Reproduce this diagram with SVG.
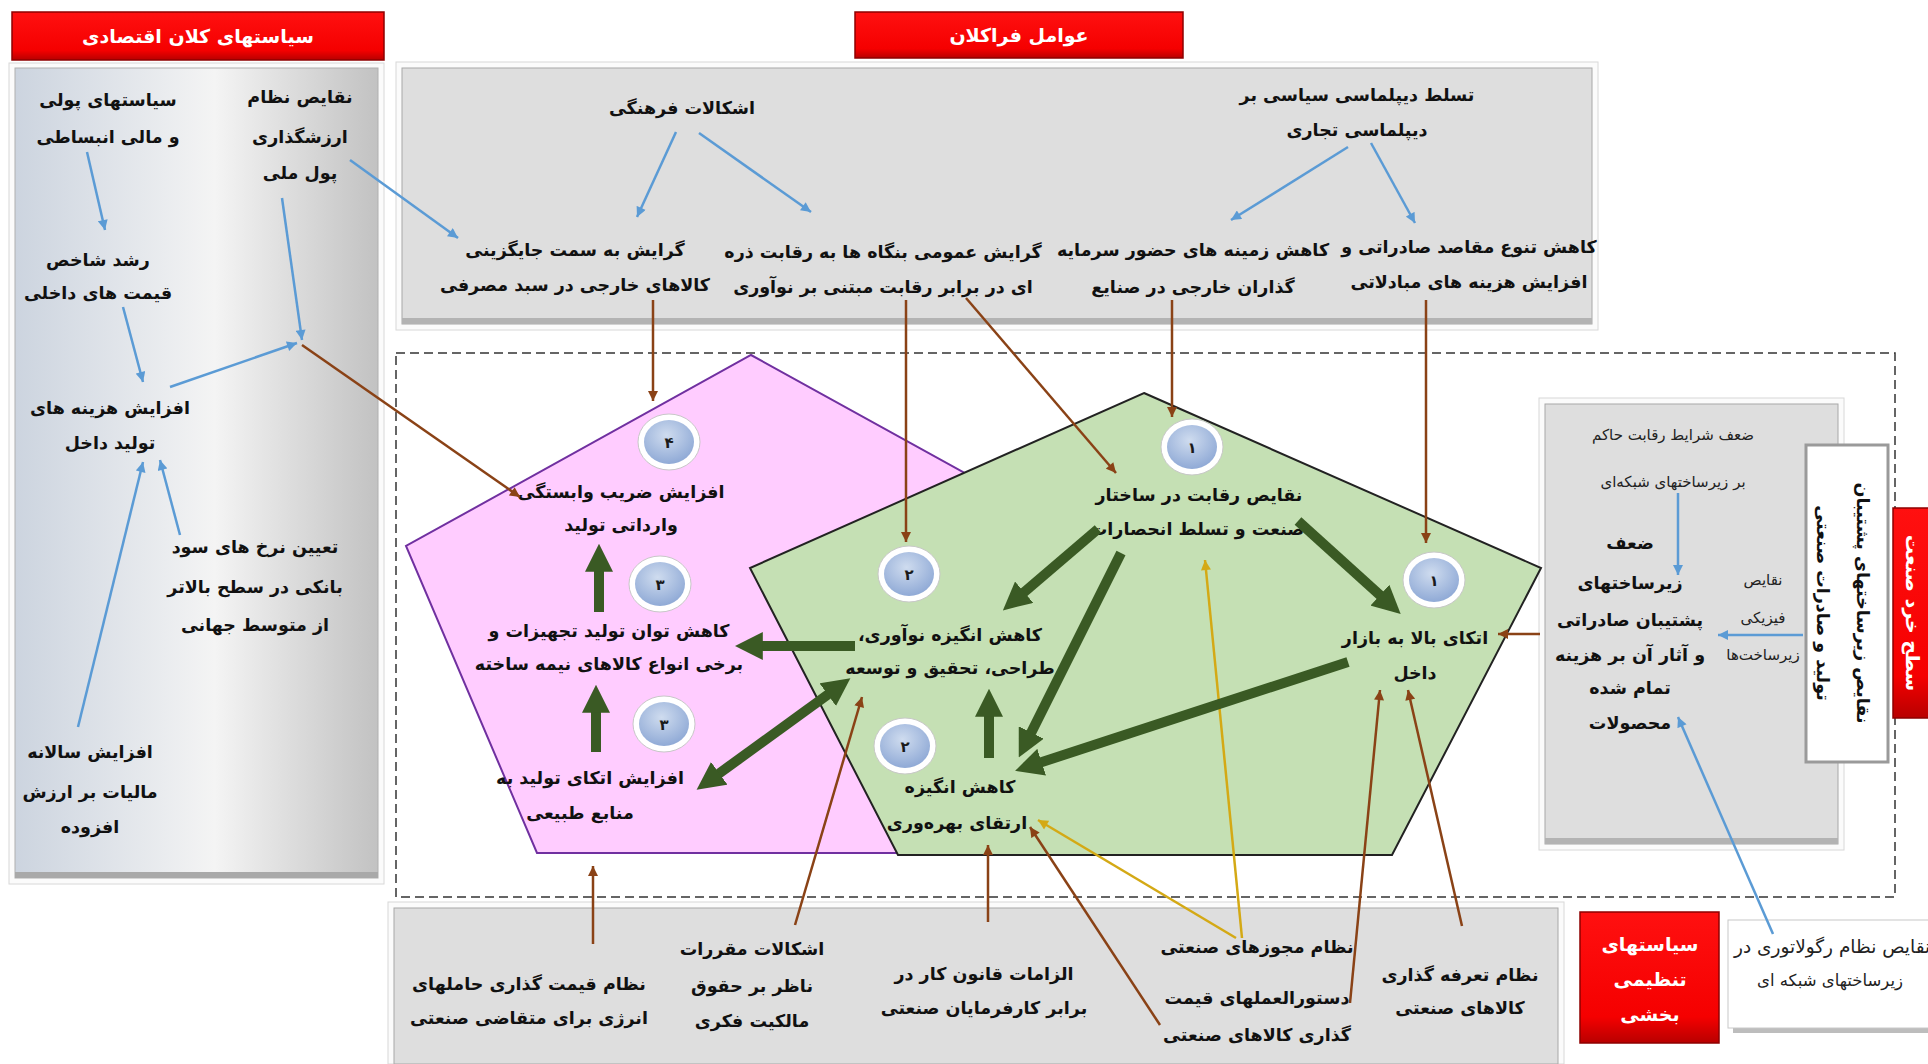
<svg xmlns="http://www.w3.org/2000/svg" width="1928" height="1064" viewBox="0 0 1928 1064">
<defs>
<style>
.t{font-family:"DejaVu Sans",sans-serif;font-weight:bold;font-size:17.5px;fill:#111;text-anchor:middle;direction:rtl}
.tr{font-family:"DejaVu Sans",sans-serif;font-weight:normal;font-size:15px;fill:#222;text-anchor:middle;direction:rtl}
.th{font-family:"DejaVu Sans",sans-serif;font-weight:bold;font-size:19px;fill:#fff;text-anchor:middle;direction:rtl}
.num{font-family:"DejaVu Sans",sans-serif;font-weight:bold;font-size:15px;fill:#1a1a1a;text-anchor:middle}
.g{stroke:#3a5a24;stroke-width:10;fill:none}
.b{stroke:#8a4216;stroke-width:2.5;fill:none}
.bl{stroke:#5b9bd5;stroke-width:2.5;fill:none}
.y{stroke:#d4a915;stroke-width:2.5;fill:none}
.panel{fill:#dedede;stroke:#a8a8a8;stroke-width:1}
.frame{fill:#fbfbfb;stroke:#d8d8d8;stroke-width:1}
.red{fill:url(#redg);stroke:#8e0000;stroke-width:1.5}
</style>
<linearGradient id="redg" x1="0" y1="0" x2="0" y2="1">
<stop offset="0" stop-color="#ff1010"/><stop offset="0.8" stop-color="#f50000"/><stop offset="1" stop-color="#b80000"/>
</linearGradient>
<linearGradient id="leftg" x1="0" y1="0" x2="1" y2="0">
<stop offset="0" stop-color="#ccd4df"/><stop offset="0.55" stop-color="#f4f4f4"/><stop offset="1" stop-color="#c2c2c2"/>
</linearGradient>
<radialGradient id="badge" cx="0.45" cy="0.35" r="0.7">
<stop offset="0" stop-color="#cfdcef"/><stop offset="1" stop-color="#8ba6d4"/>
</radialGradient>
<marker id="ag" viewBox="0 0 10 10" refX="1" refY="5" markerWidth="2.8" markerHeight="2.8" orient="auto-start-reverse" markerUnits="strokeWidth">
<path d="M0,0 L10,5 L0,10 z" fill="#3a5a24"/>
</marker>
<marker id="ab" viewBox="0 0 10 10" refX="10" refY="5" markerWidth="11" markerHeight="10" orient="auto" markerUnits="userSpaceOnUse">
<path d="M0,0 L10,5 L0,10 z" fill="#8a4216"/>
</marker>
<marker id="abl" viewBox="0 0 10 10" refX="10" refY="5" markerWidth="11" markerHeight="10" orient="auto" markerUnits="userSpaceOnUse">
<path d="M0,0 L10,5 L0,10 z" fill="#5b9bd5"/>
</marker>
<marker id="ay" viewBox="0 0 10 10" refX="10" refY="5" markerWidth="11" markerHeight="10" orient="auto" markerUnits="userSpaceOnUse">
<path d="M0,0 L10,5 L0,10 z" fill="#d4a915"/>
</marker>
</defs>

<rect x="0" y="0" width="1928" height="1064" fill="#ffffff"/>

<!-- Panels -->
<g id="header-macro">
<rect class="red" x="12" y="12" width="372" height="48"/>
<text class="th" x="198" y="43">سیاستهای کلان اقتصادی</text>
</g>
<g id="header-meta">
<rect class="red" x="855" y="12" width="328" height="46"/>
<text class="th" x="1019" y="42">عوامل فراکلان</text>
</g>
<g id="panel-macro">
<rect class="frame" x="9" y="63" width="375" height="821"/>
<rect x="15" y="68" width="363" height="810" fill="url(#leftg)" stroke="#b0b0b0" stroke-width="1"/>
<rect x="15" y="872" width="363" height="6" fill="#a9a9a9"/>
</g>
<g id="panel-meta">
<rect class="frame" x="396" y="62" width="1202" height="268"/>
<rect class="panel" x="402" y="68" width="1190" height="256"/>
<rect x="402" y="318" width="1190" height="6" fill="#b3b3b3"/>
</g>
<g id="panel-sector">
<rect class="frame" x="388" y="902" width="1176" height="162"/>
<rect class="panel" x="394" y="908" width="1164" height="156"/>
</g>
<g id="panel-infra">
<rect class="frame" x="1539" y="398" width="305" height="452"/>
<rect class="panel" x="1545" y="404" width="293" height="440"/>
<rect x="1545" y="838" width="293" height="6" fill="#b3b3b3"/>
</g>

<rect id="micro-boundary" x="396" y="353" width="1499" height="544" fill="none" stroke="#333" stroke-width="1.5" stroke-dasharray="9,5"/>

<g id="pentagon-pink">
<polygon points="751,355 1097,546 965,853 537,853 406,546" fill="#ffccff" stroke="#7030a0" stroke-width="2"/>
</g>
<g id="pentagon-green">
<polygon points="1144,393 1541,568 1392,855 898,855 750,568" fill="#c5e0b4" stroke="#222" stroke-width="2"/>
</g>

<!-- Left panel nodes -->
<g id="n-monetary"><text class="t" x="108" y="106">سیاستهای پولی</text><text class="t" x="108" y="143">و مالی انبساطی</text></g>
<g id="n-currency"><text class="t" x="300" y="103">نقایص نظام</text><text class="t" x="300" y="143">ارزشگذاری</text><text class="t" x="300" y="179">پول ملی</text></g>
<g id="n-price"><text class="t" x="98" y="266">رشد شاخص</text><text class="t" x="98" y="299">قیمت های داخلی</text></g>
<g id="n-cost"><text class="t" x="110" y="414">افزایش هزینه های</text><text class="t" x="110" y="449">تولید داخل</text></g>
<g id="n-interest"><text class="t" x="255" y="553">تعیین نرخ های سود</text><text class="t" x="255" y="593">بانکی در سطح بالاتر</text><text class="t" x="255" y="631">از متوسط جهانی</text></g>
<g id="n-vat"><text class="t" x="90" y="758">افزایش سالانه</text><text class="t" x="90" y="798">مالیات بر ارزش</text><text class="t" x="90" y="833">افزوده</text></g>

<!-- Top panel nodes -->
<g id="n-culture"><text class="t" x="682" y="114">اشکالات فرهنگی</text></g>
<g id="n-diplomacy"><text class="t" x="1357" y="101">تسلط دیپلماسی سیاسی بر</text><text class="t" x="1357" y="136">دیپلماسی تجاری</text></g>
<g id="n-foreign-goods"><text class="t" x="575" y="256">گرایش به سمت جایگزینی</text><text class="t" x="575" y="291">کالاهای خارجی در سبد مصرفی</text></g>
<g id="n-firms"><text class="t" x="883" y="258">گرایش عمومی بنگاه ها به رقابت ذره</text><text class="t" x="883" y="293">ای در برابر رقابت مبتنی بر نوآوری</text></g>
<g id="n-fdi"><text class="t" x="1193" y="256">کاهش زمینه های حضور سرمایه</text><text class="t" x="1193" y="293">گذاران خارجی در صنایع</text></g>
<g id="n-export"><text class="t" x="1469" y="253">کاهش تنوع مقاصد صادراتی و</text><text class="t" x="1469" y="288">افزایش هزینه های مبادلاتی</text></g>

<!-- Badges -->
<g id="badge-4a"><ellipse cx="669" cy="442" rx="31" ry="28" fill="#fff" stroke="#c8c8c8"/><ellipse cx="669" cy="442" rx="25" ry="22" fill="url(#badge)"/><text class="num" x="669" y="448">۴</text></g>
<g id="badge-3a"><ellipse cx="660" cy="584" rx="31" ry="28" fill="#fff" stroke="#c8c8c8"/><ellipse cx="660" cy="584" rx="25" ry="22" fill="url(#badge)"/><text class="num" x="660" y="590">۳</text></g>
<g id="badge-3b"><ellipse cx="664" cy="724" rx="31" ry="28" fill="#fff" stroke="#c8c8c8"/><ellipse cx="664" cy="724" rx="25" ry="22" fill="url(#badge)"/><text class="num" x="664" y="730">۳</text></g>
<g id="badge-2a"><ellipse cx="909" cy="574" rx="31" ry="28" fill="#fff" stroke="#c8c8c8"/><ellipse cx="909" cy="574" rx="25" ry="22" fill="url(#badge)"/><text class="num" x="909" y="580">۲</text></g>
<g id="badge-2b"><ellipse cx="905" cy="746" rx="31" ry="28" fill="#fff" stroke="#c8c8c8"/><ellipse cx="905" cy="746" rx="25" ry="22" fill="url(#badge)"/><text class="num" x="905" y="752">۲</text></g>
<g id="badge-1a"><ellipse cx="1192" cy="447" rx="31" ry="28" fill="#fff" stroke="#c8c8c8"/><ellipse cx="1192" cy="447" rx="25" ry="22" fill="url(#badge)"/><text class="num" x="1192" y="453">۱</text></g>
<g id="badge-1b"><ellipse cx="1434" cy="580" rx="31" ry="28" fill="#fff" stroke="#c8c8c8"/><ellipse cx="1434" cy="580" rx="25" ry="22" fill="url(#badge)"/><text class="num" x="1434" y="586">۱</text></g>

<!-- Pentagon nodes -->
<g id="n-import-dep"><text class="t" x="621" y="498">افزایش ضریب وابستگی</text><text class="t" x="621" y="531">وارداتی تولید</text></g>
<g id="n-equipment"><text class="t" x="609" y="637">کاهش توان تولید تجهیزات و</text><text class="t" x="609" y="670">برخی انواع کالاهای نیمه ساخته</text></g>
<g id="n-natural"><text class="t" x="590" y="784">افزایش اتکای تولید به</text><text class="t" x="580" y="819">منابع طبیعی</text></g>
<g id="n-competition"><text class="t" x="1199" y="501">نقایص رقابت در ساختار</text><text class="t" x="1197" y="535">صنعت و تسلط انحصارات</text></g>
<g id="n-innovation"><text class="t" x="950" y="641">کاهش انگیزه نوآوری،</text><text class="t" x="950" y="674">طراحی، تحقیق و توسعه</text></g>
<g id="n-productivity"><text class="t" x="960" y="793">کاهش انگیزه</text><text class="t" x="957" y="829">ارتقای بهره‌وری</text></g>
<g id="n-domestic"><text class="t" x="1415" y="644">اتکای بالا به بازار</text><text class="t" x="1415" y="679">داخل</text></g>

<!-- Right panel nodes -->
<g id="n-network-comp"><text class="tr" x="1673" y="440">ضعف شرایط رقابت حاکم</text><text class="tr" x="1673" y="487">بر زیرساختهای شبکه‌ای</text></g>
<g id="n-infra-weak"><text class="t" x="1630" y="549">ضعف</text><text class="t" x="1630" y="589">زیرساختهای</text><text class="t" x="1630" y="626">پشتیبان صادراتی</text><text class="t" x="1630" y="661">و آثار آن بر هزینه</text><text class="t" x="1630" y="694">تمام شده</text><text class="t" x="1630" y="729">محصولات</text></g>
<g id="n-physical"><text class="tr" x="1763" y="585">نقایص</text><text class="tr" x="1763" y="623">فیزیکی</text><text class="tr" x="1763" y="660">زیرساخت‌ها</text></g>
<g id="label-vertical">
<rect x="1806" y="445" width="82" height="317" fill="#fff" stroke="#9a9a9a" stroke-width="3"/>
<text class="t" transform="translate(1863,603) rotate(90)" x="0" y="6">نقایص زیرساختهای پشتیبان</text>
<text class="t" transform="translate(1823,603) rotate(90)" x="0" y="6">تولید و صادرات صنعتی</text>
</g>
<g id="header-micro">
<rect class="red" x="1893" y="508" width="40" height="210"/>
<text class="th" transform="translate(1913,613) rotate(90)" x="0" y="7">سطح خرد صنعت</text>
</g>

<!-- Bottom panel nodes -->
<g id="n-energy"><text class="t" x="529" y="990">نظام قیمت گذاری حاملهای</text><text class="t" x="529" y="1024">انرژی برای متقاضی صنعتی</text></g>
<g id="n-ip"><text class="t" x="752" y="955">اشکالات مقررات</text><text class="t" x="752" y="992">ناظر بر حقوق</text><text class="t" x="752" y="1027">مالکیت فکری</text></g>
<g id="n-labor"><text class="t" x="984" y="980">الزامات قانون کار در</text><text class="t" x="984" y="1014">برابر کارفرمایان صنعتی</text></g>
<g id="n-licence"><text class="t" x="1257" y="953">نظام مجوزهای صنعتی</text></g>
<g id="n-pricing"><text class="t" x="1257" y="1004">دستورالعملهای قیمت</text><text class="t" x="1257" y="1041">گذاری کالاهای صنعتی</text></g>
<g id="n-tariff"><text class="t" x="1460" y="981">نظام تعرفه گذاری</text><text class="t" x="1460" y="1014">کالاهای صنعتی</text></g>
<g id="header-sector">
<rect class="red" x="1580" y="912" width="139" height="131"/>
<text class="th" x="1650" y="951">سیاستهای</text><text class="th" x="1650" y="986">تنظیمی</text><text class="th" x="1650" y="1021">بخشی</text>
</g>
<g id="n-regulator">
<rect x="1733" y="925" width="200" height="108" fill="#bdbdbd"/>
<rect x="1728" y="920" width="205" height="108" fill="#fff" stroke="#c8c8c8"/>
<text class="tr" style="font-size:18.5px;text-anchor:end" x="1734" y="953">نقایص نظام رگولاتوری در</text>
<text class="tr" style="font-size:16.5px" x="1830" y="986">زیرساختهای شبکه ای</text>
</g>

<!-- Connectors -->
<g id="connectors">
<line class="bl" x1="87" y1="152" x2="105" y2="230" marker-end="url(#abl)"/>
<line class="bl" x1="123" y1="307" x2="143" y2="382" marker-end="url(#abl)"/>
<line class="bl" x1="282" y1="198" x2="302" y2="340" marker-end="url(#abl)"/>
<line class="bl" x1="170" y1="387" x2="297" y2="343" marker-end="url(#abl)"/>
<line class="bl" x1="78" y1="727" x2="143" y2="462" marker-end="url(#abl)"/>
<line class="bl" x1="180" y1="535" x2="160" y2="460" marker-end="url(#abl)"/>
<line class="bl" x1="350" y1="160" x2="458" y2="238" marker-end="url(#abl)"/>
<line class="bl" x1="676" y1="132" x2="637" y2="217" marker-end="url(#abl)"/>
<line class="bl" x1="699" y1="133" x2="811" y2="212" marker-end="url(#abl)"/>
<line class="bl" x1="1348" y1="147" x2="1231" y2="220" marker-end="url(#abl)"/>
<line class="bl" x1="1371" y1="143" x2="1415" y2="223" marker-end="url(#abl)"/>
<line class="bl" x1="1678" y1="493" x2="1678" y2="575" marker-end="url(#abl)"/>
<line class="bl" x1="1803" y1="635" x2="1718" y2="635" marker-end="url(#abl)"/>
<line class="bl" x1="1773" y1="934" x2="1678" y2="717" marker-end="url(#abl)"/>

<line class="b" x1="302" y1="345" x2="520" y2="497" marker-end="url(#ab)"/>
<line class="b" x1="653" y1="300" x2="653" y2="401" marker-end="url(#ab)"/>
<line class="b" x1="906" y1="300" x2="906" y2="542" marker-end="url(#ab)"/>
<line class="b" x1="966" y1="298" x2="1116" y2="473" marker-end="url(#ab)"/>
<line class="b" x1="1172" y1="300" x2="1172" y2="417" marker-end="url(#ab)"/>
<line class="b" x1="1426" y1="300" x2="1426" y2="543" marker-end="url(#ab)"/>
<line class="b" x1="1540" y1="634" x2="1498" y2="634" marker-end="url(#ab)"/>
<line class="b" x1="593" y1="944" x2="593" y2="866" marker-end="url(#ab)"/>
<line class="b" x1="795" y1="925" x2="862" y2="697" marker-end="url(#ab)"/>
<line class="b" x1="988" y1="922" x2="988" y2="845" marker-end="url(#ab)"/>
<line class="b" x1="1160" y1="1025" x2="1030" y2="827" marker-end="url(#ab)"/>
<line class="b" x1="1350" y1="1003" x2="1380" y2="690" marker-end="url(#ab)"/>
<line class="b" x1="1462" y1="926" x2="1408" y2="690" marker-end="url(#ab)"/>

<line class="y" x1="1236" y1="938" x2="1038" y2="820" marker-end="url(#ay)"/>
<line class="y" x1="1242" y1="938" x2="1205" y2="560" marker-end="url(#ay)"/>

<line class="g" x1="596" y1="752" x2="596" y2="710" marker-end="url(#ag)"/>
<line class="g" x1="599" y1="612" x2="599" y2="569" marker-end="url(#ag)"/>
<line class="g" x1="855" y1="646" x2="760" y2="646" marker-end="url(#ag)"/>
<line class="g" x1="717" y1="775" x2="830" y2="693" marker-start="url(#ag)" marker-end="url(#ag)"/>
<line class="g" x1="989" y1="758" x2="989" y2="714" marker-end="url(#ag)"/>
<line class="g" x1="1098" y1="529" x2="1022" y2="594" marker-end="url(#ag)"/>
<line class="g" x1="1121" y1="553" x2="1030" y2="735" marker-end="url(#ag)"/>
<line class="g" x1="1298" y1="521" x2="1382" y2="597" marker-end="url(#ag)"/>
<line class="g" x1="1348" y1="662" x2="1039" y2="763" marker-end="url(#ag)"/>
</g>
</svg>
